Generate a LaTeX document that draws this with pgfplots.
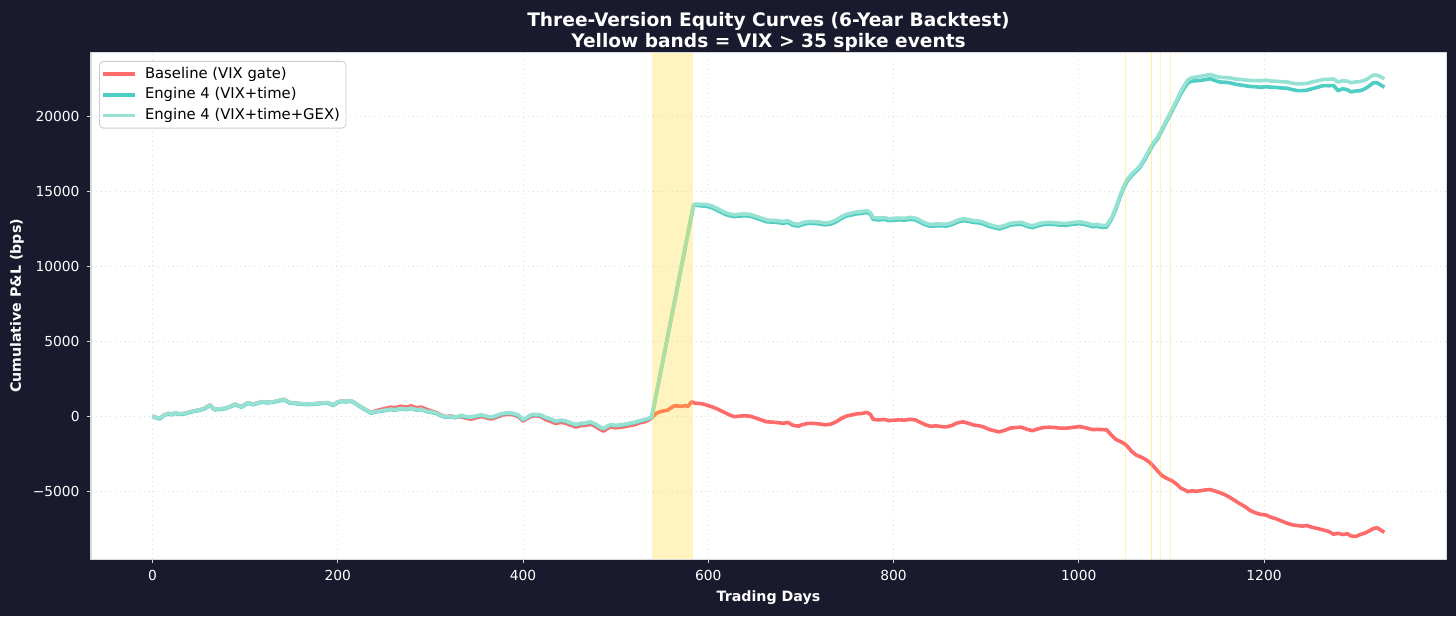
\documentclass[border=0pt]{standalone}
\usepackage{fontspec}
\setmainfont{DejaVu Sans}
\usepackage{pgfplots}
\pgfplotsset{compat=1.18}
\usepackage{pgfplotstable}
\definecolor{bg}{HTML}{1A1A2E}
\definecolor{base}{HTML}{FF6B6B}
\definecolor{eng}{HTML}{4ECDC4}
\definecolor{gex}{HTML}{95E1D3}
\definecolor{band}{HTML}{FFD700}

\pgfplotstableread{
x b e g
0 0 0 0
4 -100 -120 -90
8 -160 -180 -150
12 60 30 60
17 180 150 180
21 120 90 120
24 220 190 220
29 150 120 150
35 180 150 180
40 280 250 280
46 360 330 360
51 420 390 420
56 520 490 520
62 740 710 740
67 450 420 450
72 480 450 480
78 520 490 520
84 650 620 650
89 800 770 800
93 700 670 700
96 630 600 630
100 780 750 780
103 900 870 900
108 790 760 790
113 880 850 880
118 960 930 960
124 920 890 920
131 960 930 960
137 1050 1020 1050
142 1120 1090 1120
148 900 870 900
154 870 840 870
160 830 800 830
167 800 770 800
175 830 800 830
182 870 840 870
189 900 870 900
195 740 710 740
200 950 920 950
204 1010 980 1010
209 980 950 980
214 1030 1000 1030
218 900 870 900
222 740 710 740
228 500 470 500
236 230 200 230
241 360 280 300
247 450 330 360
252 520 380 410
257 600 440 470
262 560 400 430
268 660 490 520
274 600 430 460
279 680 510 540
285 560 400 430
290 600 440 470
296 450 300 330
301 330 240 270
306 250 180 210
311 90 30 60
316 -30 -80 -50
322 10 -40 -10
327 -60 -110 -80
333 -40 20 50
338 -130 -60 -30
344 -200 -90 -60
350 -100 0 30
355 -20 60 90
361 -130 -40 -10
366 -190 -90 -60
372 -60 30 60
378 80 150 180
384 120 190 220
389 90 160 190
395 -30 40 70
400 -330 -260 -230
405 -150 -80 -50
409 0 70 100
414 20 90 120
419 -20 50 80
424 -220 -100 -70
429 -330 -200 -170
435 -480 -360 -330
441 -420 -300 -270
446 -470 -350 -320
451 -600 -470 -440
457 -720 -590 -560
462 -640 -510 -480
467 -620 -490 -460
473 -540 -410 -380
478 -680 -550 -520
483 -880 -750 -720
487 -1000 -850 -820
491 -820 -690 -660
495 -720 -590 -560
500 -780 -650 -620
505 -740 -610 -580
510 -700 -570 -540
516 -620 -490 -460
521 -560 -430 -400
526 -450 -330 -300
531 -380 -260 -230
535 -280 -180 -150
539 -100 -60 -40
544 200 1508 1538
548 290 2762 2792
552 350 4017 4047
556 400 5271 5301
560 560 6526 6556
563 673 7466 7496
567 680 8721 8751
571 650 9975 10005
575 700 11230 11260
578 650 12170 12200
582 960 13425 13455
584 900 14050 14100
586 860 14080 14150
590 850 14050 14140
595 800 14020 14130
600 700 13980 14100
604 620 13900 14020
609 500 13760 13880
614 350 13600 13720
619 200 13450 13570
623 80 13380 13500
628 -40 13310 13430
633 0 13350 13470
639 20 13370 13490
645 0 13350 13470
651 -120 13230 13350
657 -250 13100 13220
663 -380 12970 13090
669 -400 12950 13070
675 -430 12920 13040
681 -480 12870 12990
686 -420 12930 13050
691 -600 12750 12870
697 -670 12680 12800
702 -560 12790 12910
708 -480 12870 12990
714 -490 12860 12980
720 -520 12830 12950
726 -580 12770 12890
732 -540 12810 12930
738 -380 12970 13090
743 -180 13170 13290
749 0 13350 13470
755 80 13430 13550
760 150 13500 13620
766 180 13530 13650
771 250 13600 13720
775 120 13470 13590
778 -220 13130 13250
784 -250 13100 13220
790 -220 13130 13250
795 -300 13050 13170
800 -270 13080 13200
806 -250 13100 13220
812 -270 13080 13200
818 -210 13140 13260
824 -260 13090 13210
830 -450 12900 13020
835 -590 12760 12880
840 -680 12670 12790
846 -650 12700 12820
852 -700 12700 12820
857 -720 12680 12800
863 -620 12780 12900
869 -450 12950 13070
875 -380 13050 13170
881 -480 13000 13120
887 -600 12920 13040
892 -640 12900 13020
897 -720 12830 12950
903 -880 12670 12790
909 -980 12570 12690
914 -1050 12500 12620
920 -950 12600 12720
926 -800 12750 12870
932 -760 12790 12910
938 -740 12810 12930
944 -880 12670 12790
950 -970 12580 12700
956 -850 12700 12820
962 -760 12790 12910
968 -740 12810 12930
974 -760 12790 12910
980 -800 12750 12870
986 -810 12740 12860
992 -760 12790 12910
998 -720 12830 12950
1001 -700 12850 12970
1006 -760 12790 12910
1010 -820 12730 12850
1015 -900 12650 12770
1020 -880 12670 12790
1025 -900 12600 12720
1030 -910 12620 12740
1035 -1250 13100 13200
1040 -1550 13800 13900
1045 -1700 14700 14800
1049 -1830 15300 15400
1053 -2050 15750 15850
1057 -2350 16050 16150
1062 -2600 16350 16450
1066 -2700 16600 16700
1071 -2850 17100 17200
1076 -3060 17650 17750
1080 -3300 18100 18200
1085 -3650 18500 18600
1090 -3980 19100 19200
1095 -4150 19700 19800
1101 -4330 20400 20500
1106 -4550 21000 21120
1110 -4800 21500 21650
1114 -4910 21900 22080
1118 -5050 22250 22450
1122 -4980 22360 22580
1126 -5020 22380 22620
1131 -4980 22400 22670
1136 -4930 22450 22730
1142 -4900 22520 22800
1147 -5000 22400 22700
1152 -5100 22300 22620
1158 -5250 22280 22600
1163 -5420 22250 22580
1169 -5650 22150 22500
1174 -5850 22100 22470
1180 -6060 22050 22430
1185 -6300 22000 22400
1191 -6460 21980 22390
1196 -6550 21950 22380
1202 -6600 21980 22420
1208 -6760 21950 22360
1213 -6850 21940 22350
1219 -7000 21900 22320
1225 -7150 21880 22300
1230 -7250 21800 22230
1236 -7300 21720 22170
1241 -7340 21720 22180
1246 -7300 21750 22200
1252 -7420 21850 22300
1258 -7500 21950 22380
1264 -7600 22060 22470
1270 -7700 22050 22480
1275 -7880 22060 22500
1280 -7820 21720 22300
1285 -7900 21850 22380
1290 -7850 21780 22350
1294 -8000 21640 22250
1299 -8030 21700 22300
1304 -7900 21720 22330
1309 -7800 21850 22420
1314 -7650 22050 22600
1318 -7500 22250 22760
1322 -7450 22250 22750
1326 -7600 22100 22650
1330 -7750 21950 22520
}\data

\begin{document}
\begin{tikzpicture}[x=1pt,y=1pt]
\fill[bg] (-45.5,-28.5) rectangle (682.5,279.5);
\begin{axis}[
  at={(0,0)}, anchor=south west, scale only axis,
  width=677.5pt, height=253pt,
  xmin=-66.5, xmax=1396.5, ymin=-9535, ymax=24235,
  scaled y ticks=false, scaled x ticks=false,
  axis background/.style={fill=white},
  xtick={0,200,400,600,800,1000,1200},
  xticklabels={0,200,400,600,800,1000,1200},
  ytick={-5000,0,5000,10000,15000,20000},
  yticklabels={−5000,0,5000,10000,15000,20000},
  tick label style={font=\fontsize{6.9}{8}\selectfont, text=white},
  tick align=outside, tick pos=left, major tick length=2.2pt,
  tick style={color=white!85!black, line width=0.5pt},
  axis line style={draw=white!85!black, line width=0.5pt},
  grid=major, grid style={dotted, color=black!13, line width=0.4pt},
  xlabel={Trading Days}, ylabel={Cumulative P\&L (bps)},
  label style={font=\fontsize{7.1}{8}\selectfont\bfseries, text=white},
  xlabel style={at={(axis description cs:0.5,-0.0771)}, anchor=center},
  ylabel style={at={(axis description cs:-0.0546,0.5)}, anchor=center},
  title={Three-Version Equity Curves (6-Year Backtest)\\Yellow bands = VIX > 35 spike events},
  title style={at={(axis description cs:0.5,1)}, anchor=south, align=center, inner sep=0pt, yshift=-5.6pt,
    font=\fontsize{9.3}{10.8}\selectfont\bfseries, text=white},
  legend style={at={(axis description cs:0,1)}, anchor=north west, xshift=4pt, yshift=-4pt,
    draw=black!20, rounded corners=2pt, fill=white, text=black,
    font=\fontsize{7.4}{8}\selectfont, row sep=0pt, inner xsep=1pt, inner ysep=1.2pt,
    nodes={inner ysep=1.6pt},
    cells={anchor=west}},
  legend image code/.code={\draw[#1, line width=1.8pt] (0pt,0pt) -- (16pt,0pt); \path (18pt,0pt);},
  line join=round,
]
\addplot[base, line width=1.8pt, no markers] table[x=x, y=b] {\data};
\addlegendentry{Baseline (VIX gate)}
\addplot[eng, line width=1.8pt, no markers] table[x=x, y=e] {\data};
\addlegendentry{Engine 4 (VIX+time)}
\addplot[gex, line width=1.8pt, no markers] table[x=x, y=g] {\data};
\addlegendentry{Engine 4 (VIX+time+GEX)}
\addplot[draw=none, fill=band, fill opacity=0.25, forget plot] coordinates {(539,-9535) (584,-9535) (584,24235) (539,24235)} -- cycle;
\addplot[draw=none, fill=band, fill opacity=0.3, forget plot] coordinates {(1050,-9535) (1051,-9535) (1051,24235) (1050,24235)} -- cycle;
\addplot[draw=none, fill=band, fill opacity=0.4, forget plot] coordinates {(1078,-9535) (1079.5,-9535) (1079.5,24235) (1078,24235)} -- cycle;
\addplot[draw=none, fill=band, fill opacity=0.3, forget plot] coordinates {(1088,-9535) (1089,-9535) (1089,24235) (1088,24235)} -- cycle;
\addplot[draw=none, fill=band, fill opacity=0.3, forget plot] coordinates {(1098,-9535) (1099,-9535) (1099,24235) (1098,24235)} -- cycle;
\end{axis}
\pgfresetboundingbox
\useasboundingbox (-45.5,-28.5) rectangle (682.5,279.5);
\end{tikzpicture}
\end{document}
